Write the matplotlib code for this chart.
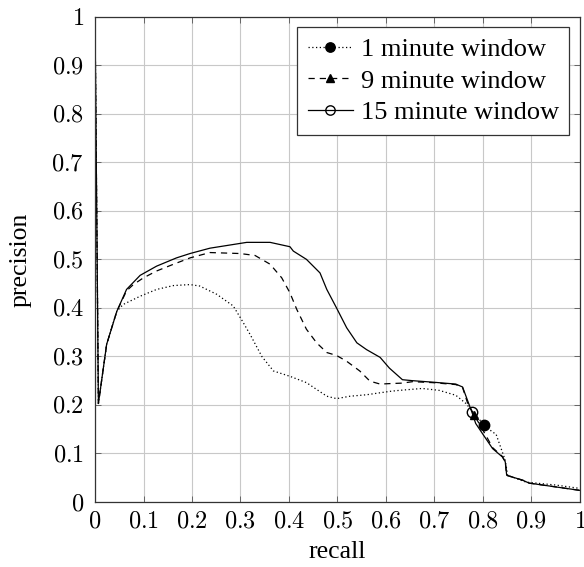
import matplotlib
matplotlib.use("Agg")
import matplotlib.pyplot as plt

plt.rcParams["font.family"] = ["Liberation Serif", "DejaVu Serif"]
plt.rcParams["mathtext.fontset"] = "cm"

# ==== 数据 ====
recall_1 = [0.0, 0.007, 0.024, 0.045, 0.058, 0.093, 0.127, 0.162, 0.196, 0.216, 0.251,
            0.285, 0.302, 0.320, 0.344, 0.368, 0.402, 0.436, 0.457, 0.478, 0.498, 0.526,
            0.560, 0.608, 0.627, 0.675, 0.710, 0.744, 0.765, 0.785, 0.803, 0.820, 0.827,
            0.846, 0.851, 0.889, 0.95, 1.0]
prec_1 = [1.0, 0.203, 0.325, 0.393, 0.407, 0.424, 0.438, 0.446, 0.448, 0.445, 0.428,
          0.404, 0.376, 0.345, 0.300, 0.270, 0.259, 0.246, 0.232, 0.218, 0.213, 0.218,
          0.221, 0.228, 0.230, 0.234, 0.230, 0.220, 0.203, 0.179, 0.158, 0.144, 0.140,
          0.086, 0.055, 0.041, 0.035, 0.028]

recall_9 = [0.0, 0.007, 0.024, 0.045, 0.065, 0.079, 0.100, 0.127, 0.162, 0.196, 0.237,
            0.299, 0.330, 0.361, 0.385, 0.402, 0.416, 0.436, 0.457, 0.478, 0.498, 0.519,
            0.546, 0.567, 0.588, 0.608, 0.634, 0.655, 0.696, 0.744, 0.758, 0.768, 0.782,
            0.799, 0.820, 0.840, 0.846, 0.849, 0.882, 0.895, 1.0]
prec_9 = [1.0, 0.203, 0.325, 0.393, 0.435, 0.448, 0.462, 0.476, 0.490, 0.503, 0.514,
          0.512, 0.508, 0.490, 0.462, 0.431, 0.397, 0.356, 0.328, 0.308, 0.302, 0.290,
          0.270, 0.249, 0.243, 0.244, 0.245, 0.248, 0.246, 0.242, 0.236, 0.205, 0.179,
          0.150, 0.112, 0.094, 0.083, 0.055, 0.045, 0.039, 0.024]

recall_15 = [0.0, 0.007, 0.024, 0.045, 0.065, 0.093, 0.127, 0.168, 0.196, 0.237, 0.313,
             0.361, 0.402, 0.409, 0.436, 0.464, 0.478, 0.498, 0.519, 0.540, 0.560, 0.588,
             0.607, 0.634, 0.655, 0.696, 0.744, 0.758, 0.768, 0.777, 0.785, 0.799, 0.820,
             0.840, 0.846, 0.849, 0.882, 0.895, 1.0]
prec_15 = [1.0, 0.203, 0.325, 0.393, 0.438, 0.467, 0.486, 0.503, 0.512, 0.523, 0.535,
           0.535, 0.526, 0.517, 0.500, 0.472, 0.438, 0.400, 0.359, 0.328, 0.314, 0.298,
           0.276, 0.252, 0.250, 0.247, 0.243, 0.237, 0.210, 0.186, 0.162, 0.141, 0.110,
           0.093, 0.083, 0.055, 0.045, 0.039, 0.024]

labels = ["1 minute window", "9 minute window", "15 minute window"]
ticks = [0, 0.1, 0.2, 0.3, 0.4, 0.5, 0.6, 0.7, 0.8, 0.9, 1]
tick_labels = ["0", "0.1", "0.2", "0.3", "0.4", "0.5", "0.6", "0.7", "0.8", "0.9", "1"]

# ==== 绘图 ====
fig = plt.figure(figsize=(5.84, 5.67), dpi=100)
ax = fig.add_axes([0.1627, 0.1146, 0.8303, 0.856])

ax.plot(recall_1, prec_1, color="black", lw=0.9, linestyle=(0, (1, 2)),
        marker="o", markersize=7.5, markevery=[30], markerfacecolor="black",
        label=labels[0])
ax.plot(recall_9, prec_9, color="black", lw=0.9, linestyle=(0, (5, 4)),
        marker="^", markersize=6, markevery=[32], markerfacecolor="black",
        label=labels[1])
ax.plot(recall_15, prec_15, color="black", lw=0.9, linestyle="-",
        marker="o", markersize=7.5, markevery=[29], markerfacecolor="none",
        label=labels[2])

ax.set_xlim(0, 1)
ax.set_ylim(0, 1)
ax.set_xticks(ticks)
ax.set_yticks(ticks)
ax.set_xticklabels(["$" + t + "$" for t in tick_labels], fontsize=17.5)
ax.set_yticklabels(["$" + t + "$" for t in tick_labels], fontsize=17.5)
ax.tick_params(direction="in", top=True, right=True, length=4, width=0.6,
               color="#555555")
ax.tick_params(axis="x", pad=7)
ax.tick_params(axis="y", pad=8)
ax.grid(True, color="#c8c8c8", lw=0.8)
for s in ax.spines.values():
    s.set_linewidth(0.9)
    s.set_color("#333333")

ax.set_xlabel("recall", fontsize=18.5, labelpad=6)
ax.set_ylabel("precision", fontsize=18.5, labelpad=14)

leg = ax.legend(loc="upper right", fontsize=19, frameon=True, fancybox=False,
                edgecolor="#333333", framealpha=1, handlelength=1.7,
                handletextpad=0.3, borderpad=0.4, labelspacing=0.3,
                borderaxespad=0.4, markerscale=0.9)
leg.get_frame().set_linewidth(0.9)

fig.savefig("out.png", dpi=100)
